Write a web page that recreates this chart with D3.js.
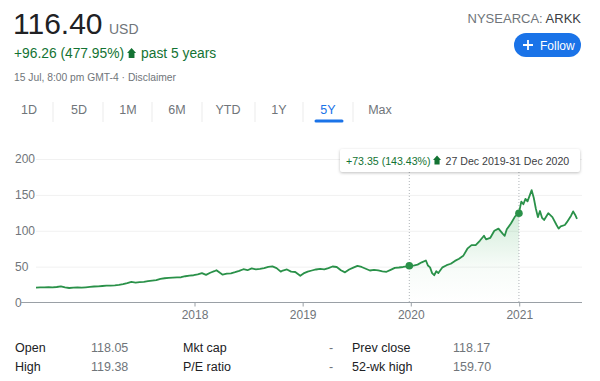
<!DOCTYPE html>
<html>
<head>
<meta charset="utf-8">
<script src="https://cdn.jsdelivr.net/npm/d3@7"></script>
<style>
  html, body { margin: 0; padding: 0; background: #fff; }
  svg { display: block; font-family: Arial, "Liberation Sans", sans-serif; }
</style>
</head>
<body>
<svg id="chart" width="600" height="381"></svg>
<script>
// ---------- data ----------
const dates = [
  "2016-07-15","2016-07-29","2016-08-12","2016-08-26","2016-09-09","2016-09-23","2016-10-07","2016-10-21","2016-11-04","2016-11-18","2016-12-02","2016-12-16","2016-12-30",
  "2017-01-13","2017-01-27","2017-02-10","2017-02-24","2017-03-10","2017-03-24","2017-04-07","2017-04-21","2017-05-05","2017-05-19","2017-06-02","2017-06-16","2017-06-30",
  "2017-07-14","2017-07-28","2017-08-11","2017-08-25","2017-09-08","2017-09-22","2017-10-06","2017-10-20","2017-11-03","2017-11-17","2017-12-01","2017-12-15","2017-12-29",
  "2018-01-12","2018-01-26","2018-02-09","2018-02-23","2018-03-09","2018-03-16","2018-03-29","2018-04-06","2018-04-20","2018-05-04","2018-05-18","2018-06-01","2018-06-15",
  "2018-06-29","2018-07-13","2018-07-27","2018-08-10","2018-08-24","2018-09-07","2018-09-21","2018-10-05","2018-10-19","2018-10-26","2018-11-09","2018-11-23","2018-12-07","2018-12-24",
  "2019-01-04","2019-01-18","2019-02-01","2019-02-15","2019-03-01","2019-03-15","2019-03-29","2019-04-12","2019-04-26","2019-05-10","2019-05-24","2019-06-07","2019-06-21",
  "2019-07-05","2019-07-19","2019-08-02","2019-08-16","2019-08-30","2019-09-13","2019-09-27","2019-10-11","2019-10-25","2019-11-08","2019-11-22","2019-12-06","2019-12-20","2019-12-27",
  "2020-01-10","2020-01-24","2020-02-07","2020-02-21","2020-02-28","2020-03-06","2020-03-13","2020-03-20","2020-03-27","2020-04-03","2020-04-17","2020-05-01","2020-05-15",
  "2020-05-29","2020-06-12","2020-06-26","2020-07-10","2020-07-24","2020-08-07","2020-08-21","2020-09-04","2020-09-11","2020-09-25","2020-10-09","2020-10-23","2020-11-06",
  "2020-11-13","2020-11-20","2020-12-04","2020-12-18","2020-12-31",
  "2021-01-08","2021-01-15","2021-01-22","2021-01-29","2021-02-12","2021-02-19","2021-02-26","2021-03-05","2021-03-12","2021-03-19","2021-03-26","2021-04-09","2021-04-23",
  "2021-05-07","2021-05-14","2021-05-21","2021-06-04","2021-06-11","2021-06-25","2021-07-02","2021-07-09","2021-07-15"
];
const prices = [
  20.6,21.0,21.2,21.4,21.0,21.6,22.4,21.2,20.2,20.6,21.0,20.7,21.2,
  21.8,22.3,22.6,23.0,23.4,23.6,24.0,24.6,25.6,27.0,28.6,27.8,28.4,
  28.8,29.8,30.6,31.2,33.0,33.8,34.3,34.6,35.0,35.2,36.6,37.5,38.0,
  39.2,41.0,38.5,41.5,43.6,45.0,41.0,38.8,40.2,40.6,42.2,44.0,46.4,
  45.0,47.6,46.2,47.0,48.0,49.6,50.4,48.0,43.0,44.5,46.0,43.0,42.5,37.2,
  40.5,43.0,44.6,46.0,47.0,46.2,48.0,50.2,49.5,45.0,42.0,46.0,48.6,
  51.0,49.5,47.0,44.6,45.5,44.8,43.5,42.8,45.5,48.3,48.8,49.5,50.5,51.14,
  51.5,52.8,56.0,58.5,51.5,49.0,41.0,38.0,43.5,41.0,49.0,52.0,54.0,
  58.0,61.0,65.0,75.0,80.0,80.0,86.0,93.0,88.0,90.0,100.0,103.0,96.0,
  93.0,102.0,110.0,120.0,124.49,
  140.5,137.0,144.5,141.0,156.6,146.0,131.0,119.0,127.5,118.0,115.0,124.5,119.0,
  108.0,103.0,106.0,108.0,112.0,121.0,127.0,122.0,116.40
];
const yTicks = [0, 50, 100, 150, 200];
const xTickYears = ["2018-01-01", "2019-01-01", "2020-01-01", "2021-01-01"];
const rangeDates = ["2019-12-27", "2020-12-31"];
const tabs = ["1D", "5D", "1M", "6M", "YTD", "1Y", "5Y", "Max"];
const statLabels1 = ["Open", "High"];
const statValues1 = ["118.05", "119.38"];
const statLabels2 = ["Mkt cap", "P/E ratio"];
const statValues2 = ["-", "-"];
const statLabels3 = ["Prev close", "52-wk high"];
const statValues3 = ["118.17", "159.70"];

// ---------- setup ----------
const parse = d3.timeParse("%Y-%m-%d");
const data = dates.map((d, i) => ({ date: parse(d), value: prices[i] }));
const svg = d3.select("#chart");
const GREEN = "#137333";
const LINE = "#2a9149";
const GRAY = "#70757a";
const DARK = "#202124";

const x = d3.scaleTime()
  .domain([parse("2016-07-15"), parse("2021-07-15")])
  .range([36, 577]);
const y = d3.scaleLinear().domain([0, 200]).range([302.5, 159]);

function arrow(g, cx, base, h, w, fill) {
  // upward arrow: tip at base-h, shaft bottom at base
  const head = h * 0.5;
  const sw = w * 0.32;
  g.append("path")
    .attr("d", `M${cx},${base - h} L${cx - w / 2},${base - h + head} L${cx - sw},${base - h + head} L${cx - sw},${base} L${cx + sw},${base} L${cx + sw},${base - h + head} L${cx + w / 2},${base - h + head} Z`)
    .attr("fill", fill);
}

// ---------- header ----------
svg.append("text").attr("x", 13).attr("y", 34)
  .attr("font-size", 30).attr("fill", DARK).text("116.40");
svg.append("text").attr("x", 109).attr("y", 34)
  .attr("font-size", 14).attr("fill", GRAY).text("USD");

const chg = svg.append("text").attr("x", 14).attr("y", 58)
  .attr("font-size", 13.8).attr("fill", GREEN).text("+96.26 (477.95%)");
const chgEnd = 14 + chg.node().getComputedTextLength();
arrow(svg, chgEnd + 7.5, 58, 10, 9, GREEN);
svg.append("text").attr("x", chgEnd + 17).attr("y", 58)
  .attr("font-size", 13.8).attr("fill", GREEN).text("past 5 years");

svg.append("text").attr("x", 14).attr("y", 81)
  .attr("font-size", 10.3).attr("fill", GRAY).text("15 Jul, 8:00 pm GMT-4 · Disclaimer");

const ticker = svg.append("text").attr("x", 581).attr("y", 23)
  .attr("text-anchor", "end").attr("font-size", 13);
ticker.append("tspan").attr("fill", GRAY).text("NYSEARCA: ");
ticker.append("tspan").attr("fill", "#3c4043").text("ARKK");

svg.append("rect").attr("x", 514).attr("y", 33).attr("width", 67).attr("height", 24)
  .attr("rx", 12).attr("fill", "#1a73e8");
svg.append("path").attr("d", "M528,40 V50 M523,45 H533")
  .attr("stroke", "#fff").attr("stroke-width", 1.8);
svg.append("text").attr("x", 540).attr("y", 49.5)
  .attr("font-size", 12).attr("fill", "#fff").text("Follow");

// tabs
const tabX = [29, 79, 128, 177, 228, 279, 328, 380];
const sepX = [53, 103, 152, 202, 255, 303, 353];
svg.selectAll(".tab").data(tabs).join("text")
  .attr("x", (d, i) => tabX[i]).attr("y", 114)
  .attr("text-anchor", "middle").attr("font-size", 12.5)
  .attr("fill", d => d === "5Y" ? "#1a73e8" : GRAY)
  .text(d => d);
svg.selectAll(".sep").data(sepX).join("line")
  .attr("x1", d => d).attr("x2", d => d).attr("y1", 102).attr("y2", 122)
  .attr("stroke", "#ebebeb").attr("stroke-width", 1);
svg.append("line").attr("x1", 316).attr("x2", 342).attr("y1", 121).attr("y2", 121)
  .attr("stroke", "#1a73e8").attr("stroke-width", 3).attr("stroke-linecap", "round");

// ---------- chart ----------
const yAxis = d3.axisLeft(y).tickValues(yTicks).tickSize(-(582 - 36)).tickPadding(0);
const gy = svg.append("g").attr("transform", "translate(36,0)").call(yAxis);
gy.select(".domain").remove();
gy.selectAll(".tick line").attr("stroke", "#f1f1f1");
gy.selectAll(".tick text").attr("x", -21).attr("text-anchor", "start")
  .attr("font-size", 12).attr("fill", GRAY).attr("font-family", "Arial, 'Liberation Sans', sans-serif");
gy.selectAll(".tick").filter(d => d === 0).select("line").remove();

const xAxis = d3.axisBottom(x).tickValues(xTickYears.map(parse))
  .tickFormat(d3.timeFormat("%Y")).tickSize(4).tickPadding(4);
const gx = svg.append("g").attr("transform", `translate(0,${y(0)})`).call(xAxis);
gx.select(".domain").remove();
gx.selectAll(".tick line").attr("stroke", "#9aa0a6");
gx.selectAll(".tick text").attr("font-size", 12).attr("fill", GRAY)
  .attr("font-family", "Arial, 'Liberation Sans', sans-serif");
svg.append("line").attr("x1", 20).attr("x2", 582).attr("y1", y(0)).attr("y2", y(0))
  .attr("stroke", "#9aa0a6").attr("stroke-width", 1);

// shaded range area
const r0 = parse(rangeDates[0]), r1 = parse(rangeDates[1]);
const sub = data.filter(d => d.date >= r0 && d.date <= r1);
const defs = svg.append("defs");
const grad = defs.append("linearGradient").attr("id", "fillGrad")
  .attr("x1", 0).attr("y1", 0).attr("x2", 0).attr("y2", 1);
grad.append("stop").attr("offset", "0%").attr("stop-color", "#34a853").attr("stop-opacity", 0.22);
grad.append("stop").attr("offset", "60%").attr("stop-color", "#34a853").attr("stop-opacity", 0.04);
grad.append("stop").attr("offset", "100%").attr("stop-color", "#34a853").attr("stop-opacity", 0);
svg.append("path").datum(sub)
  .attr("d", d3.area().x(d => x(d.date)).y0(y(0)).y1(d => y(d.value)))
  .attr("fill", "url(#fillGrad)");

svg.selectAll(".rline").data([r0, r1]).join("line")
  .attr("x1", d => x(d)).attr("x2", d => x(d)).attr("y1", 172).attr("y2", y(0))
  .attr("stroke", "#b0b4b8").attr("stroke-width", 1).attr("stroke-dasharray", "1,2");

svg.append("path").datum(data)
  .attr("d", d3.line().x(d => x(d.date)).y(d => y(d.value)))
  .attr("fill", "none").attr("stroke", LINE).attr("stroke-width", 1.8)
  .attr("stroke-linejoin", "round");

const dotData = data.filter(d => +d.date === +r0 || +d.date === +r1);
svg.selectAll(".dot").data(dotData).join("circle")
  .attr("cx", d => x(d.date)).attr("cy", d => y(d.value)).attr("r", 3.8)
  .attr("fill", LINE);

// tooltip
const tip = svg.append("g");
tip.append("rect").attr("x", 340).attr("y", 149).attr("width", 240).attr("height", 23)
  .attr("rx", 2).attr("fill", "#fff")
  .style("filter", "drop-shadow(0px 1px 1.5px rgba(0,0,0,0.25))");
const t1 = tip.append("text").attr("x", 346).attr("y", 164.5).attr("font-size", 10.6).attr("fill", GREEN)
  .text("+73.35 (143.43%)");
const t1End = 346 + t1.node().getComputedTextLength();
arrow(tip, t1End + 6.5, 164.5, 9, 8, GREEN);
tip.append("text").attr("x", t1End + 15).attr("y", 164.5).attr("font-size", 10.6).attr("fill", "#3c4043")
  .text("27 Dec 2019-31 Dec 2020");

// ---------- stats table ----------
const rowsY = [352, 371];
function col(labels, lx, values, vx) {
  labels.forEach((t, i) => svg.append("text").attr("x", lx).attr("y", rowsY[i])
    .attr("font-size", 12.5).attr("fill", DARK).text(t));
  values.forEach((t, i) => svg.append("text").attr("x", vx).attr("y", rowsY[i])
    .attr("font-size", 12.5).attr("fill", GRAY).text(t));
}
col(statLabels1, 15, statValues1, 91);
statLabels2.forEach((t, i) => svg.append("text").attr("x", 183).attr("y", rowsY[i])
  .attr("font-size", 12.5).attr("fill", DARK).text(t));
svg.selectAll(".dash").data(statValues2).join("text")
  .attr("x", 331).attr("y", (d, i) => rowsY[i]).attr("font-size", 12.5)
  .attr("fill", GRAY).attr("text-anchor", "middle").text(d => d);
col(statLabels3, 352, statValues3, 453);
</script>
</body>
</html>
